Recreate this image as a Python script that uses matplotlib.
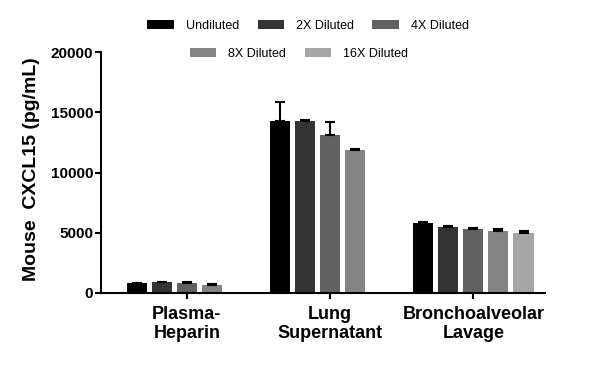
import matplotlib
matplotlib.use("Agg")
import matplotlib.pyplot as plt
from matplotlib.patches import Patch
import numpy as np

plt.rcParams['font.family'] = ['Liberation Sans', 'DejaVu Sans']

categories = ["Plasma-\nHeparin", "Lung\nSupernatant", "Bronchoalveolar\nLavage"]
series = ["Undiluted", "2X Diluted", "4X Diluted", "8X Diluted", "16X Diluted"]
colors = ["#000000", "#343434", "#616161", "#848484", "#a5a5a5"]

# values per series for each category (None = no bar)
undiluted = [800, 14300, 5850]
dil2 = [880, 14250, 5500]
dil4 = [830, 13150, 5350]
dil8 = [680, 11900, 5150]
dil16 = [None, None, 5000]

err_undiluted = [40, 1550, 80]
err_dil2 = [50, 90, 80]
err_dil4 = [60, 1000, 80]
err_dil8 = [60, 60, 120]
err_dil16 = [None, None, 180]

values = [undiluted, dil2, dil4, dil8, dil16]
errors = [err_undiluted, err_dil2, err_dil4, err_dil8, err_dil16]

fig = plt.figure(figsize=(6, 3.74), dpi=100)
ax = fig.add_axes([101/600, 1-293/374, 444/600, (293-52)/374])

slot = 0.175
width = 0.14
xc = np.arange(len(categories))
for i, (vals, errs) in enumerate(zip(values, errors)):
    off = (i - 2) * slot
    xs = [x + off for x, v in zip(xc, vals) if v is not None]
    ys = [v for v in vals if v is not None]
    es = [e for v, e in zip(vals, errs) if v is not None]
    ax.bar(xs, ys, width=width, color=colors[i], label=series[i], zorder=2)
    ax.errorbar(xs, ys, yerr=[np.zeros(len(es)), es], fmt='none', ecolor='black',
                elinewidth=1.5, capsize=3.5, capthick=1.5, zorder=3)

ax.set_xlim(-0.60, 2.50)
ax.set_ylim(0, 20000)
ax.set_yticks([0, 5000, 10000, 15000, 20000])
ax.set_yticklabels(["0", "5000", "10000", "15000", "20000"], fontsize=11, fontweight='bold')
ax.set_xticks(xc)
ax.set_xticklabels(categories, fontsize=13, fontweight='bold', linespacing=1.15)
for s in ['top', 'right']:
    ax.spines[s].set_visible(False)
for s in ['left', 'bottom']:
    ax.spines[s].set_linewidth(1.5)
ax.tick_params(axis='both', direction='out', length=4.5, width=1.5)
ax.tick_params(axis='x', pad=5)
ax.tick_params(axis='y', pad=1)

fig.text(32/600, 0.548, "Mouse  CXCL15 (pg/mL)", rotation=90, ha='center', va='center',
         fontsize=14, fontweight='bold')

handles = [Patch(facecolor=c, edgecolor='none') for c in colors]
fs = 9
kw = dict(frameon=False, fontsize=fs, handlelength=2.1, handleheight=0.65,
          handletextpad=0.95, columnspacing=1.5, loc='center', borderpad=0)
fig.legend(handles[:3], series[:3], ncol=3, bbox_to_anchor=(308/600, 1-26/374), **kw)
fig.legend(handles[3:], series[3:], ncol=2, bbox_to_anchor=(299/600, 1-54/374), **kw)

fig.savefig("out.png", dpi=100)
